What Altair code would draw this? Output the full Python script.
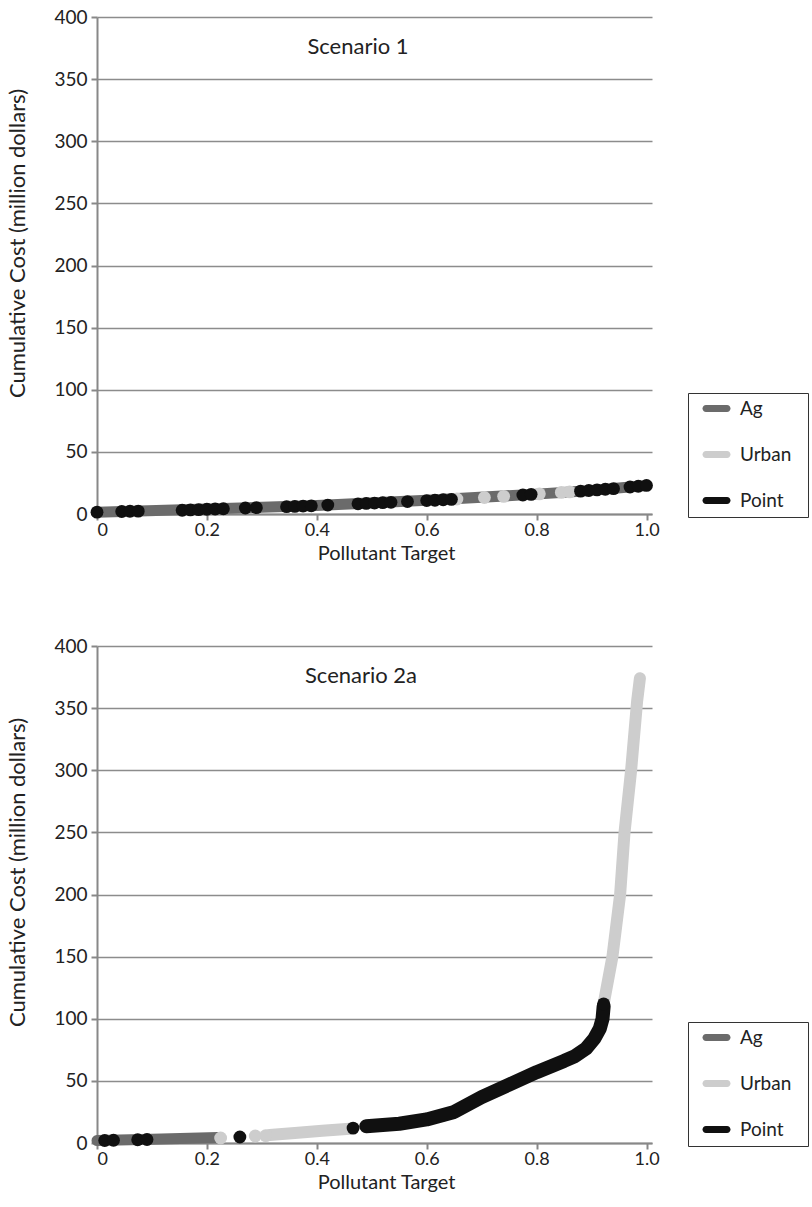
import altair as alt
import pandas as pd

SERIES = ["Ag", "Urban", "Point"]
COLORS = ["#6b6b6b", "#cdcdcd", "#101010"]

# ---------- Scenario 1 ----------
s1_ag_x = [0.0, 0.2, 0.4, 0.6, 0.8, 0.9, 1.0]
s1_ag_y = [1.5, 4.0, 6.8, 11.0, 16.0, 19.0, 23.0]

s1_point_x = [0.0, 0.045, 0.06, 0.075, 0.155, 0.17, 0.185, 0.2, 0.215, 0.23,
              0.27, 0.29, 0.345, 0.36, 0.375, 0.39, 0.42, 0.475, 0.49, 0.505,
              0.52, 0.535, 0.565, 0.60, 0.615, 0.63, 0.645, 0.775, 0.79, 0.88,
              0.895, 0.91, 0.925, 0.94, 0.97, 0.985, 1.0]
s1_point_y = [1.5, 2.0, 2.2, 2.3, 3.0, 3.3, 3.5, 3.8, 4.0, 4.2,
              4.8, 5.1, 5.9, 6.1, 6.4, 6.6, 7.2, 8.2, 8.5, 8.8,
              9.1, 9.4, 10.0, 10.8, 11.1, 11.5, 11.8, 15.3, 15.8, 18.4,
              18.9, 19.4, 19.9, 20.4, 21.7, 22.3, 23.0]
s1_urban_x = [0.655, 0.705, 0.74, 0.805, 0.845, 0.86]
s1_urban_y = [12.1, 13.3, 14.2, 16.2, 17.4, 17.8]

# ---------- Scenario 2a ----------
s2_ag_x = [0.0, 0.1, 0.22]
s2_ag_y = [2.0, 3.0, 4.5]

s2_urban1_x = [0.314, 0.36, 0.41, 0.46]
s2_urban1_y = [6.5, 8.0, 9.8, 11.5]
s2_point_line_x = [0.49, 0.55, 0.6, 0.65, 0.7, 0.75, 0.8, 0.85, 0.87, 0.89, 0.905, 0.915, 0.92, 0.922]
s2_point_line_y = [13.5, 15.5, 19.0, 25.0, 37.0, 47.0, 57.0, 66.0, 70.0, 76.0, 84.0, 92.0, 100.0, 110.0]
s2_urban2_x = [0.922, 0.938, 0.952, 0.96, 0.972, 0.983, 0.988]
s2_urban2_y = [112.0, 150.0, 200.0, 250.0, 300.0, 356.0, 374.0]

s2_point_x = [0.014, 0.03, 0.074, 0.091, 0.26, 0.466, 0.922]
s2_point_y = [2.0, 2.2, 2.6, 2.8, 4.8, 12.0, 112.0]
s2_urban_x = [0.225, 0.288, 0.307]
s2_urban_y = [4.0, 5.6, 5.9]

X_TICKS = [0, 0.2, 0.4, 0.6, 0.8, 1.0]
Y_TICKS = [0, 50, 100, 150, 200, 250, 300, 350, 400]

FONT = "Lato"
W, H = 555, 497
COLOR_OF = dict(zip(SERIES, COLORS))

pill = ("M-1.3125,-0.4375 L1.3125,-0.4375 A0.4375,0.4375 0 0 1 1.3125,0.4375 "
        "L-1.3125,0.4375 A0.4375,0.4375 0 0 1 -1.3125,-0.4375 Z")


def lines_df(parts):
    rows = []
    for seg, (series, xs, ys) in enumerate(parts):
        for i, (x, y) in enumerate(zip(xs, ys)):
            rows.append({"x": x, "y": y, "series": series, "seg": seg, "order": i})
    return pd.DataFrame(rows)


def dots_df(parts):
    rows = []
    for series, xs, ys in parts:
        for x, y in zip(xs, ys):
            rows.append({"x": x, "y": y, "series": series})
    return pd.DataFrame(rows)


def panel(line_parts, dot_parts, label, label_x):
    xs = alt.X("x:Q", scale=alt.Scale(domain=[0, 1.01], nice=False, zero=False),
               axis=alt.Axis(title="Pollutant Target", values=X_TICKS, grid=False,
                             labelExpr="datum.value == 0 ? '0' : format(datum.value, '.1f')",
                             tickSize=6, labelPadding=1, titlePadding=4, titleX=289,
                             labelFontSize=18, titleFontSize=20))
    ys = alt.Y("y:Q", scale=alt.Scale(domain=[0, 400], nice=False),
               axis=alt.Axis(title="Cumulative Cost (million dollars)", values=Y_TICKS,
                             grid=True, tickSize=6, labelPadding=4, titlePadding=24,
                             titleY=226, titleFontSize=22))
    cscale = alt.Scale(domain=SERIES, range=COLORS)

    ldf = lines_df(line_parts)
    ddf = dots_df(dot_parts)

    layers = []
    for series, width in [("Ag", 11), ("Urban", 12), ("Point", 14)]:
        sub = ldf[ldf.series == series]
        if len(sub) == 0:
            continue
        layers.append(
            alt.Chart(sub).mark_line(strokeWidth=width, strokeCap="round", strokeJoin="round",
                                     color=COLOR_OF[series]).encode(
                x=xs, y=ys, detail="seg:N", order="order:Q")
        )
    legend = alt.Legend(orient="none", legendX=591, legendY=376,
                        title=".", titleOrient="right", titleFontSize=4, titlePadding=10,
                        titleColor="white", titleOpacity=0,
                        symbolType=pill, symbolSize=256,
                        symbolStrokeWidth=0, symbolOffset=13,
                        padding=6, rowPadding=26, labelOffset=14,
                        labelFontSize=19, labelFont=FONT,
                        labelColor="#222222",
                        strokeColor="#333333", fillColor="white",
                        values=SERIES)
    for series in ["Urban", "Point"]:
        sub = ddf[ddf.series == series]
        layers.append(
            alt.Chart(sub).mark_circle(size=165, opacity=1).encode(
                x=xs, y=ys,
                color=alt.Color("series:N", scale=cscale, legend=legend))
        )
    txt = alt.Chart(pd.DataFrame({"t": [label]})).mark_text(
        font=FONT, fontSize=22, color="#222222", align="center", baseline="middle"
    ).encode(text="t:N", x=alt.value(label_x), y=alt.value(30))
    layers.append(txt)
    return alt.layer(*layers).properties(width=W, height=H)


top = panel(
    [("Ag", s1_ag_x, s1_ag_y)],
    [("Urban", s1_urban_x, s1_urban_y), ("Point", s1_point_x, s1_point_y)],
    "Scenario 1", 261,
)
bottom = panel(
    [("Ag", s2_ag_x, s2_ag_y), ("Urban", s2_urban1_x, s2_urban1_y),
     ("Point", s2_point_line_x, s2_point_line_y), ("Urban", s2_urban2_x, s2_urban2_y)],
    [("Urban", s2_urban_x, s2_urban_y), ("Point", s2_point_x, s2_point_y)],
    "Scenario 2a", 264,
)

chart = alt.vconcat(top, bottom, spacing=74).resolve_scale(color="independent").resolve_legend(
    color="independent"
).properties(
    padding={"left": 6, "top": 8, "right": 0, "bottom": 0}
).configure(font=FONT).configure_view(stroke=None).configure_axis(
    domainColor="#888888", domainWidth=2, tickColor="#888888", tickWidth=2,
    gridColor="#8c8c8c", gridWidth=1.3, labelFont=FONT, labelFontSize=19,
    labelColor="#222222", titleFont=FONT, titleFontSize=20, titleFontWeight="normal",
    titleColor="#222222"
)

chart.save("out.html", embed_options={"renderer": "svg", "actions": False})
